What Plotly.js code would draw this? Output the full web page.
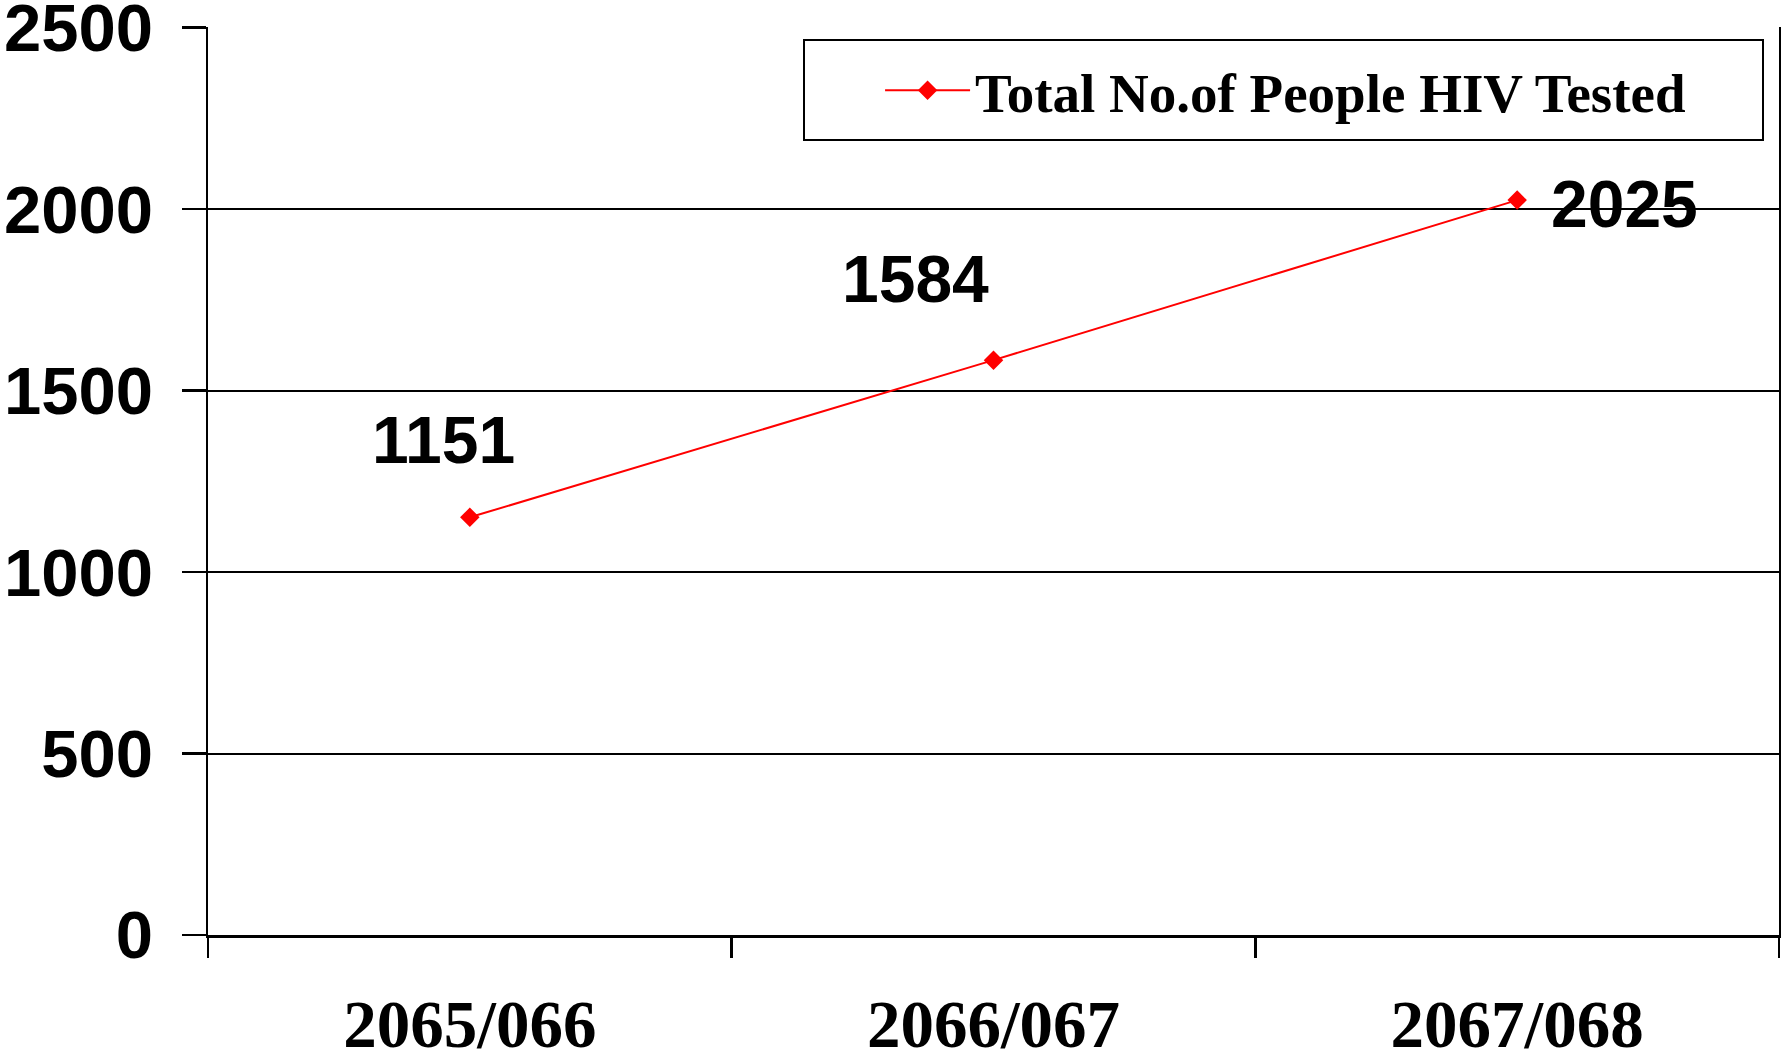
<!DOCTYPE html>
<html>
<head>
<meta charset="utf-8">
<script src="https://cdn.plot.ly/plotly-3.0.1.min.js"></script>
<style>
html,body{margin:0;padding:0;background:#fff;}
#chart{width:1781px;height:1063px;}
</style>
</head>
<body>
<div id="chart"></div>
<script>
// ---- data ----
const categories = ["2065/066", "2066/067", "2067/068"];
const tested = [1151, 1584, 2025];
const seriesName = "Total No.of People HIV Tested";
const yTickVals = [0, 500, 1000, 1500, 2000, 2500];

// label offsets (style, px)
const labelShiftX = [-26, -78, 107];
const labelShiftY = [77, 81, -4];

const trace = {
  type: "scatter",
  mode: "lines+markers",
  x: categories,
  y: tested,
  name: seriesName,
  line: {color: "#ff0000", width: 2},
  marker: {symbol: "diamond", size: 15, color: "#ff0000"},
  hoverinfo: "x+y"
};

const annotations = tested.map((v, i) => ({
  x: categories[i], y: v, xref: "x", yref: "y",
  text: String(v), showarrow: false,
  xshift: labelShiftX[i], yshift: labelShiftY[i],
  font: {family: "Liberation Sans, Arial, sans-serif", size: 66, color: "#000", weight: 700}
}));

const layout = {
  width: 1781, height: 1063,
  paper_bgcolor: "#fff", plot_bgcolor: "#fff",
  margin: {l: 208, r: 2, t: 27, b: 128, pad: 0},
  showlegend: true,
  legend: {
    x: 0.4278, y: 0.93, xanchor: "left", yanchor: "middle",
    bgcolor: "rgba(0,0,0,0)", borderwidth: 0,
    font: {family: "Liberation Serif, Times New Roman, serif", size: 55, color: "#000", weight: 700},
    itemwidth: 85
  },
  shapes: [{
    type: "rect", xref: "paper", yref: "paper",
    x0: (804 - 208) / 1571, x1: (1763 - 208) / 1571,
    y0: (935 - 140) / 908, y1: (935 - 40) / 908,
    line: {color: "#000", width: 2}, fillcolor: "rgba(0,0,0,0)", layer: "below"
  }],
  xaxis: {
    type: "category",
    range: [-0.5, 2.5],
    showgrid: false, zeroline: false,
    showline: true, linecolor: "#000", linewidth: 2.5,
    ticks: "outside", tickson: "boundaries", ticklen: 20, tickwidth: 2.5, tickcolor: "#000",
    tickfont: {family: "Liberation Serif, Times New Roman, serif", size: 67, color: "#000", weight: 700},
    ticklabelstandoff: 29,
    fixedrange: true
  },
  yaxis: {
    range: [0, 2502],
    tickvals: yTickVals,
    showgrid: true, gridcolor: "#000", gridwidth: 2,
    zeroline: false,
    showline: true, mirror: true, linecolor: "#000", linewidth: 2.5,
    ticks: "outside", ticklen: 24, tickwidth: 2.5, tickcolor: "#000",
    tickfont: {family: "Liberation Sans, Arial, sans-serif", size: 67, color: "#000", weight: 700},
    ticklabelstandoff: 15,
    ticklabeloverflow: "allow",
    fixedrange: true
  },
  annotations: annotations
};

Plotly.newPlot("chart", [trace], layout, {displayModeBar: false, staticPlot: true});
</script>
</body>
</html>
